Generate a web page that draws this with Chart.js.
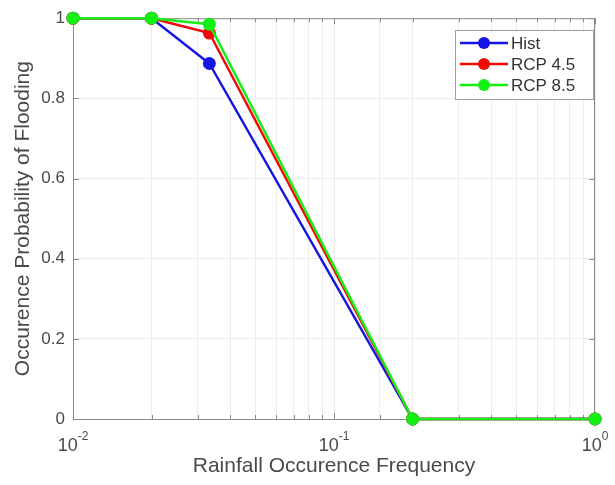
<!DOCTYPE html>
<html>
<head>
<meta charset="utf-8">
<script src="https://cdn.jsdelivr.net/npm/chart.js@4/dist/chart.umd.min.js"></script>
<style>
html, body { margin: 0; padding: 0; background: #fff; }
#wrap { width: 615px; height: 485px; }
</style>
</head>
<body>
<div id="wrap"><canvas id="chart"></canvas></div>
<script>
// -------- DATA --------
const frequency = [0.01, 0.02, 0.0333, 0.2, 1];
const hist = [1, 1, 0.887, 0, 0];
const rcp45 = [1, 1, 0.963, 0, 0];
const rcp85 = [1, 1, 0.985, 0, 0];
const seriesNames = ["Hist", "RCP 4.5", "RCP 8.5"];
const seriesColors = ["#1515e6", "#f00a0a", "#14f014"];
const xMajorTicks = [0.01, 0.1, 1];
const xTickExponents = ["-2", "-1", "0"];
const yTicks = [0, 0.2, 0.4, 0.6, 0.8, 1];

const FONT = "'Liberation Sans', Arial, sans-serif";
const TEXT = "#4a4a4a";
const AXIS = "#8a8a8a";

// -------- DATASETS --------
const allSeries = [hist, rcp45, rcp85];
const datasets = allSeries.map((vals, i) => ({
    label: seriesNames[i],
    data: frequency.map((f, j) => ({ x: f, y: vals[j] })),
    borderColor: seriesColors[i],
    backgroundColor: seriesColors[i],
    pointBackgroundColor: seriesColors[i],
    pointBorderWidth: 0,
    pointRadius: 6.5,
    borderWidth: 2.5,
    tension: 0,
    clip: false,
    order: 3 - i
}));

// -------- PLUGIN: box, inward ticks, x labels, legend --------
const matlabLook = {
    id: "matlabLook",
    beforeDatasetsDraw(chart) {
        const ctx = chart.ctx;
        const a = chart.chartArea;
        const xs = chart.scales.x;
        const ys = chart.scales.y;
        ctx.save();

        // box
        ctx.strokeStyle = AXIS;
        ctx.lineWidth = 1;
        ctx.strokeRect(a.left + 0.5, a.top + 0.5, a.right - a.left - 1, a.bottom - a.top);

        // inward ticks on x
        xs.ticks.forEach(t => {
            const px = Math.round(xs.getPixelForValue(t.value)) + 0.5;
            const len = xMajorTicks.includes(t.value) ? 6 : 4;
            ctx.beginPath();
            ctx.moveTo(px, a.bottom); ctx.lineTo(px, a.bottom - len);
            ctx.moveTo(px, a.top); ctx.lineTo(px, a.top + len);
            ctx.stroke();
        });
        // inward ticks on y
        yTicks.forEach(v => {
            const py = Math.round(ys.getPixelForValue(v)) + 0.5;
            ctx.beginPath();
            ctx.moveTo(a.left, py); ctx.lineTo(a.left + 6, py);
            ctx.moveTo(a.right, py); ctx.lineTo(a.right - 6, py);
            ctx.stroke();
        });

        // x tick labels 10^n
        ctx.fillStyle = TEXT;
        ctx.textBaseline = "alphabetic";
        xMajorTicks.forEach((v, i) => {
            const px = xs.getPixelForValue(v);
            ctx.font = "18px " + FONT;
            const w1 = ctx.measureText("10").width;
            ctx.font = "12px " + FONT;
            const w2 = ctx.measureText(xTickExponents[i]).width;
            const x0 = px - (w1 + w2) / 2;
            ctx.textAlign = "left";
            ctx.font = "18px " + FONT;
            ctx.fillText("10", x0, a.bottom + 32);
            ctx.font = "12px " + FONT;
            ctx.fillText(xTickExponents[i], x0 + w1, a.bottom + 21);
        });
        ctx.restore();
    },
    afterDraw(chart) {
        const ctx = chart.ctx;
        ctx.save();
        // legend
        const lx = 455, ly = 30, lw = 138, lh = 69;
        ctx.fillStyle = "#fff";
        ctx.fillRect(lx, ly, lw, lh);
        ctx.strokeStyle = "#a0a0a0";
        ctx.lineWidth = 1;
        ctx.strokeRect(lx + 0.5, ly + 0.5, lw, lh);
        ctx.font = "17px " + FONT;
        ctx.textBaseline = "middle";
        chart.data.datasets.forEach((ds, i) => {
            const y = ly + 13 + i * 21;
            ctx.strokeStyle = ds.borderColor;
            ctx.lineWidth = 2.5;
            ctx.beginPath();
            ctx.moveTo(lx + 5, y); ctx.lineTo(lx + 53, y);
            ctx.stroke();
            ctx.fillStyle = ds.borderColor;
            ctx.beginPath();
            ctx.arc(lx + 29, y, 6, 0, Math.PI * 2);
            ctx.fill();
            ctx.fillStyle = "#333";
            ctx.fillText(ds.label, lx + 56, y + 1);
        });
        ctx.restore();
    }
};

// -------- CHART --------
new Chart(document.getElementById("chart").getContext("2d"), {
    type: "line",
    data: { datasets },
    options: {
        responsive: true,
        maintainAspectRatio: false,
        animation: false,
        layout: { padding: { left: 0, right: 20, top: 16, bottom: 0 } },
        plugins: {
            legend: { display: false },
            tooltip: { enabled: false }
        },
        scales: {
            x: {
                type: "logarithmic",
                min: 0.01,
                max: 1,
                border: { display: false },
                grid: { color: "#ececec", drawTicks: false, lineWidth: 1 },
                ticks: { display: false },
                title: {
                    display: true,
                    text: "Rainfall Occurence Frequency",
                    color: TEXT,
                    font: { family: FONT, size: 21 },
                    padding: { top: 0, bottom: 6 }
                },
                afterFit: s => { s.height = 66; }
            },
            y: {
                min: 0,
                max: 1,
                border: { display: false },
                grid: { color: "#ececec", drawTicks: false },
                afterBuildTicks: s => { s.ticks = yTicks.map(v => ({ value: v })); },
                ticks: {
                    color: TEXT,
                    padding: 8,
                    font: { family: FONT, size: 17 },
                    callback: v => String(Math.round(v * 10) / 10)
                },
                title: {
                    display: true,
                    text: "Occurence Probability of Flooding",
                    color: TEXT,
                    font: { family: FONT, size: 21 },
                    padding: { top: 11, bottom: 0 }
                },
                afterFit: s => { s.width = 73; }
            }
        }
    },
    plugins: [matlabLook]
});
</script>
</body>
</html>
